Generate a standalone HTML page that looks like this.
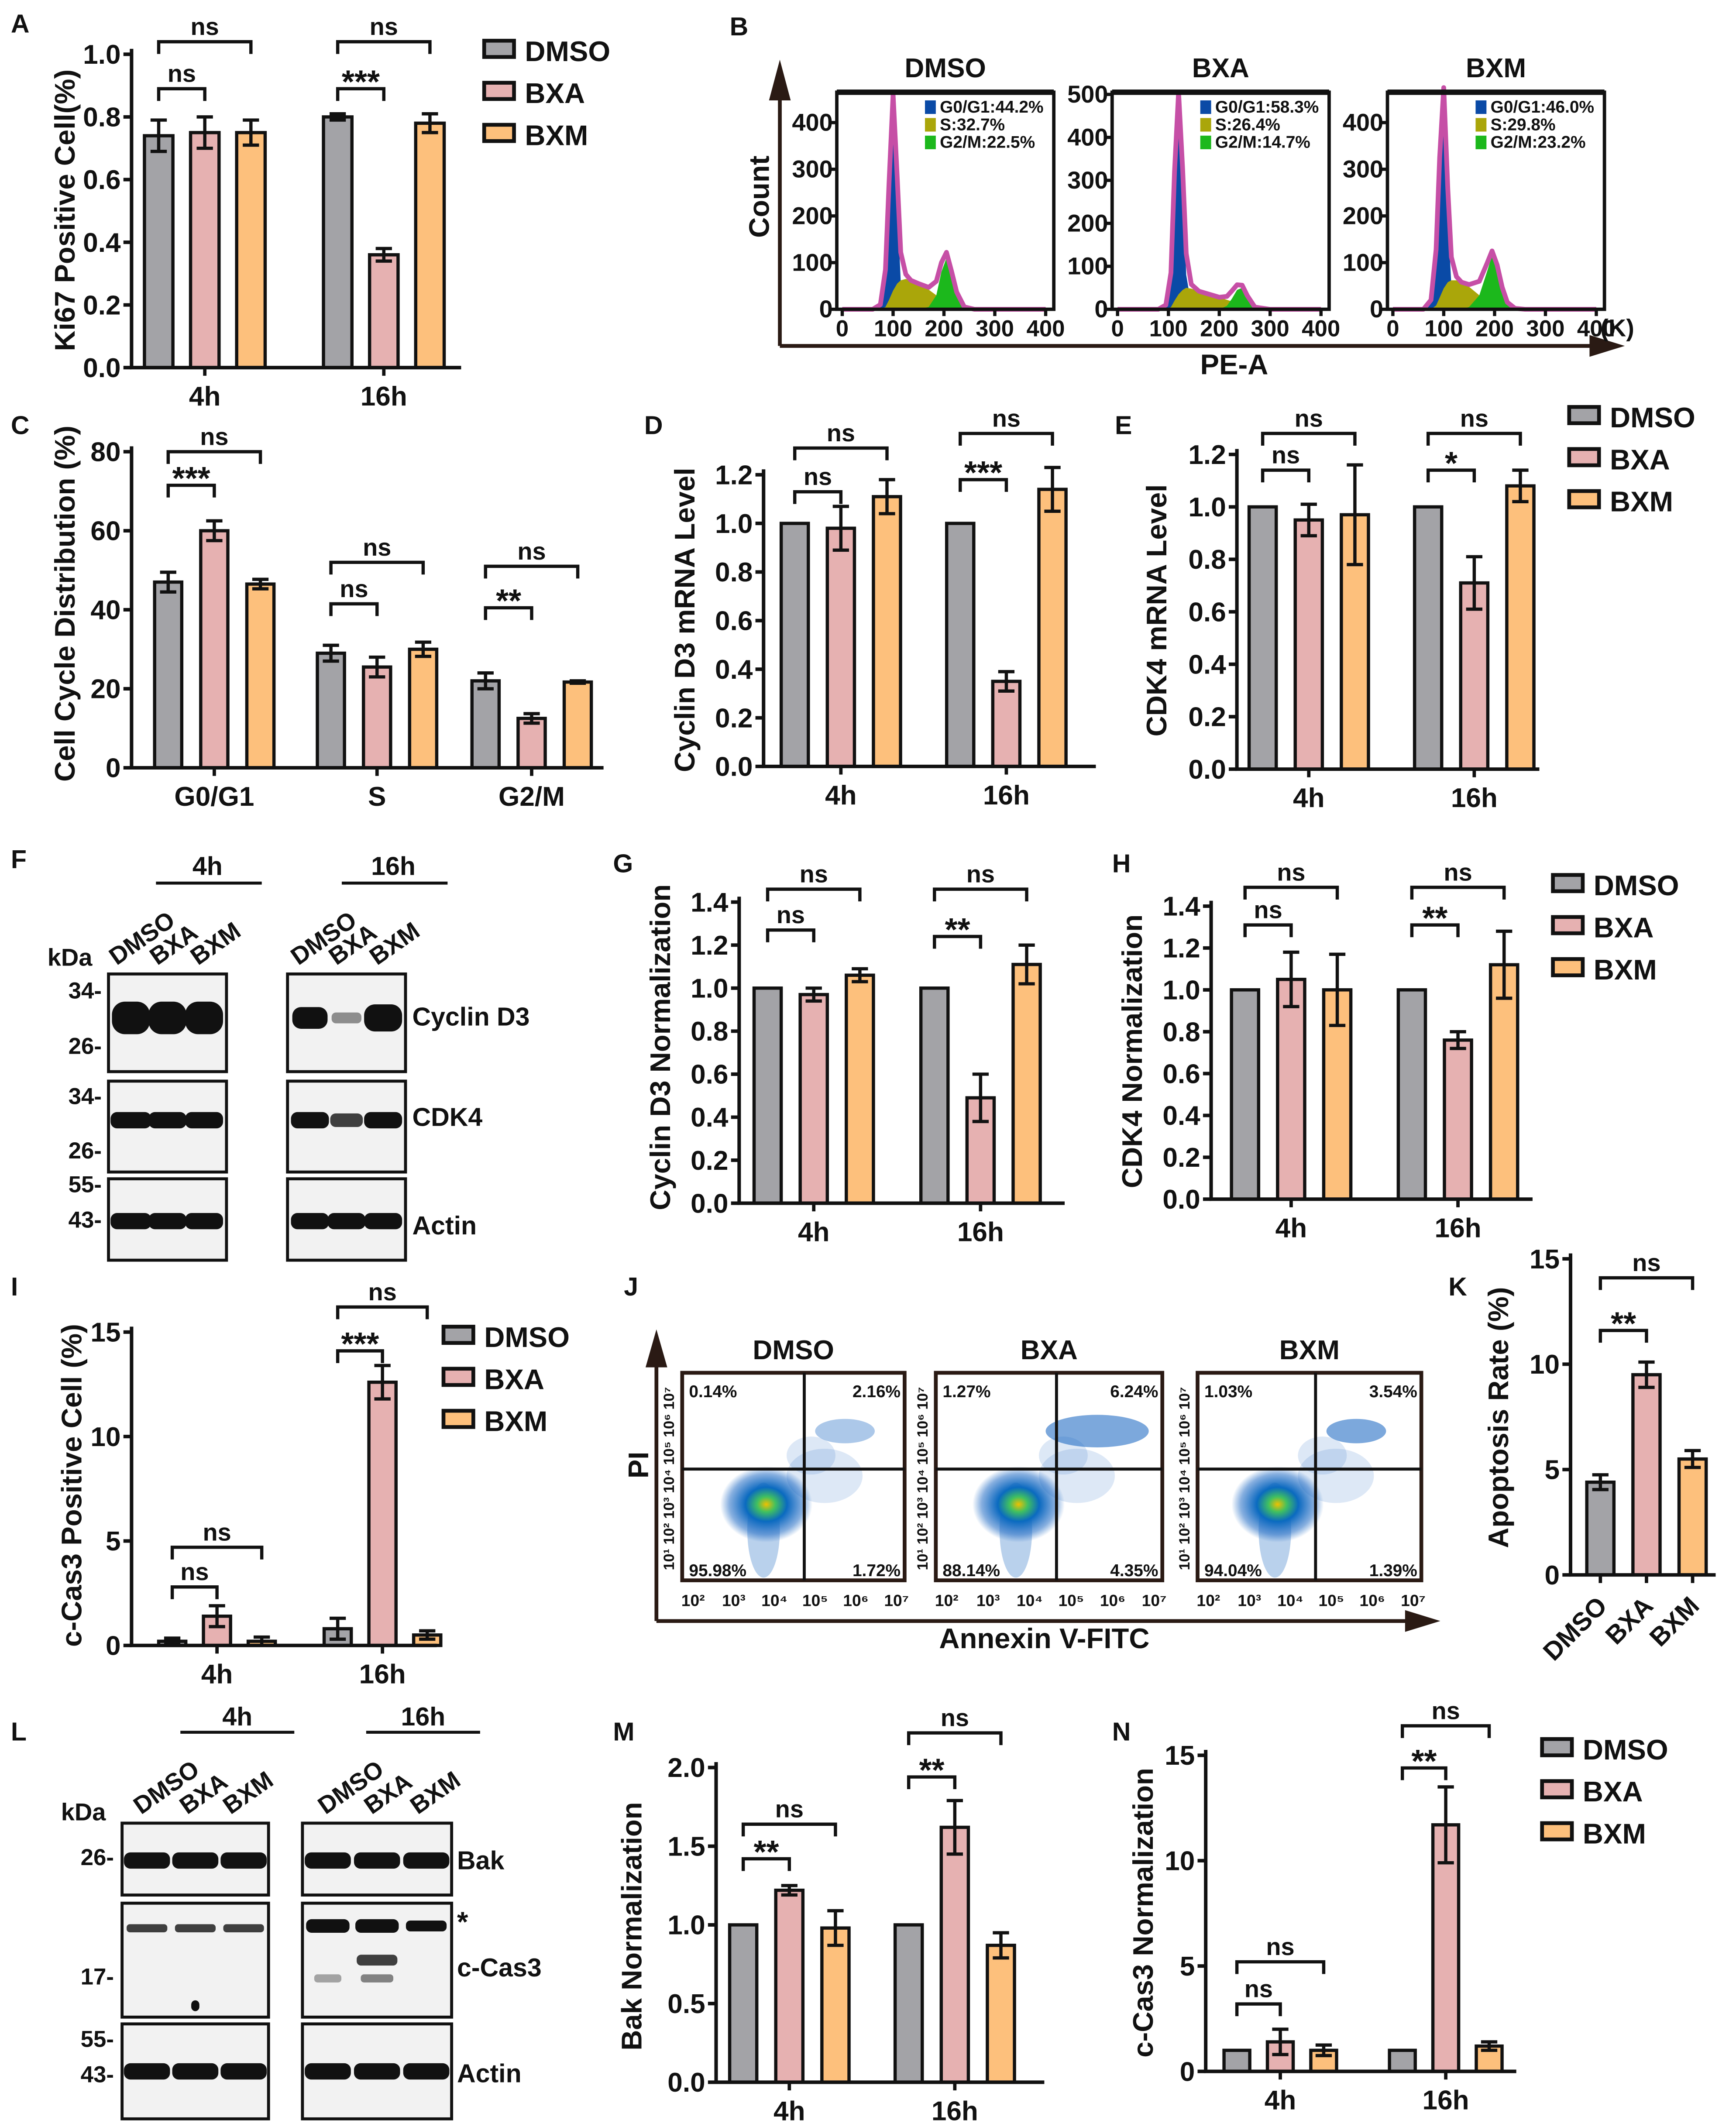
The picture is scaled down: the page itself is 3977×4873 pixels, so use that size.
<!DOCTYPE html>
<html><head><meta charset="utf-8">
<style>
html,body{margin:0;padding:0;background:#fff;}
svg{display:block;font-family:"Liberation Sans",Arial,sans-serif;font-weight:bold;}
</style></head>
<body>
<svg id="fig" xmlns="http://www.w3.org/2000/svg" width="3977" height="4873" viewBox="0 0 1280 1568" preserveAspectRatio="none">
<rect x="0" y="0" width="1280" height="1568" fill="#fff"/>
<g id="layer"></g>
</svg>
<script>
// ===== Data =====
const seriesNames = ['DMSO','BXA','BXM'];
const timeGroups = ['4h','16h'];
// A: Ki67
const A_dmso=[0.74,0.80], A_bxa=[0.75,0.36], A_bxm=[0.75,0.78];
const A_err_dmso=[0.05,0.01], A_err_bxa=[0.05,0.02], A_err_bxm=[0.04,0.03];
const A_ticks=[0,0.2,0.4,0.6,0.8,1.0];
// C: cell cycle
const C_groups=['G0/G1','S','G2/M'];
const C_dmso=[47,29,22], C_bxa=[60,25.5,12.5], C_bxm=[46.5,30,21.7];
const C_err_dmso=[2.5,2,2], C_err_bxa=[2.5,2.5,1.2], C_err_bxm=[1.2,1.8,0.3];
const C_ticks=[0,20,40,60,80];
// D: Cyclin D3 mRNA
const D_dmso=[1,1], D_bxa=[0.98,0.35], D_bxm=[1.11,1.14];
const D_err_dmso=[0,0], D_err_bxa=[0.09,0.04], D_err_bxm=[0.07,0.09];
const D_ticks=[0,0.2,0.4,0.6,0.8,1.0,1.2];
// E: CDK4 mRNA
const E_dmso=[1,1], E_bxa=[0.95,0.71], E_bxm=[0.97,1.08];
const E_err_dmso=[0,0], E_err_bxa=[0.06,0.1], E_err_bxm=[0.19,0.06];
const E_ticks=[0,0.2,0.4,0.6,0.8,1.0,1.2];
// G: Cyclin D3 normalization
const G_dmso=[1,1], G_bxa=[0.97,0.49], G_bxm=[1.06,1.11];
const G_err_dmso=[0,0], G_err_bxa=[0.03,0.11], G_err_bxm=[0.03,0.09];
const G_ticks=[0,0.2,0.4,0.6,0.8,1.0,1.2,1.4];
// H: CDK4 normalization
const H_dmso=[1,1], H_bxa=[1.05,0.76], H_bxm=[1.0,1.12];
const H_err_dmso=[0,0], H_err_bxa=[0.13,0.04], H_err_bxm=[0.17,0.16];
const H_ticks=[0,0.2,0.4,0.6,0.8,1.0,1.2,1.4];
// I: c-Cas3 positive
const I_dmso=[0.2,0.8], I_bxa=[1.4,12.6], I_bxm=[0.2,0.5];
const I_err_dmso=[0.15,0.5], I_err_bxa=[0.5,0.8], I_err_bxm=[0.2,0.2];
const I_ticks=[0,5,10,15];
// K: apoptosis
const K_cats=['DMSO','BXA','BXM'];
const K_vals=[4.4,9.5,5.5];
const K_err=[0.35,0.6,0.4];
const K_ticks=[0,5,10,15];
// M: Bak
const M_dmso=[1,1], M_bxa=[1.22,1.62], M_bxm=[0.98,0.87];
const M_err_dmso=[0,0], M_err_bxa=[0.03,0.17], M_err_bxm=[0.11,0.08];
const M_ticks=[0,0.5,1.0,1.5,2.0];
// N: c-Cas3 normalization
const N_dmso=[1,1], N_bxa=[1.4,11.7], N_bxm=[1.0,1.2];
const N_err_dmso=[0,0], N_err_bxa=[0.6,1.8], N_err_bxm=[0.25,0.2];
const N_ticks=[0,5,10,15];
// B: flow histograms (count vs PE-A in K)
const B_x=[0,60,75,85,92,100,108,115,125,135,150,170,185,195,205,215,225,240,260,300,400];
const B_dmso_g1=[0,0,10,80,250,420,230,60,10,0,0,0,0,0,0,0,0,0,0,0,0];
const B_dmso_s=[0,0,0,5,20,40,55,62,65,62,55,42,30,20,12,6,2,0,0,0,0];
const B_dmso_g2=[0,0,0,0,0,0,0,0,0,0,0,5,30,80,110,75,35,5,0,0,0];
const B_bxa_x=[0,80,95,105,112,120,128,135,145,160,180,200,215,225,235,245,255,270,300,400];
const B_bxa_g1=[0,0,10,80,300,470,280,80,10,0,0,0,0,0,0,0,0,0,0,0];
const B_bxa_s=[0,0,0,5,20,35,45,50,48,42,35,28,22,18,12,6,2,0,0,0];
const B_bxa_g2=[0,0,0,0,0,0,0,0,0,0,0,0,8,25,45,50,30,5,0,0];
const B_bxm_g1=[0,0,20,120,300,430,200,50,8,0,0,0,0,0,0,0,0,0,0,0,0];
const B_bxm_s=[0,0,0,8,25,45,58,62,62,58,48,30,18,10,5,2,0,0,0,0,0];
const B_bxm_g2=[0,0,0,0,0,0,0,0,0,0,5,30,80,115,90,45,15,2,0,0,0];
const J_pct=[['0.14%','2.16%','95.98%','1.72%'],['1.27%','6.24%','88.14%','4.35%'],['1.03%','3.54%','94.04%','1.39%']];

const COLORS=['#a3a3a7','#e6b1b1','#fdc07c'];
const NS='http://www.w3.org/2000/svg';
const layer=document.getElementById('layer');
function el(tag,attrs,parent,txt){const e=document.createElementNS(NS,tag);for(const k in attrs)e.setAttribute(k,attrs[k]);if(txt!==undefined)e.textContent=txt;(parent||layer).appendChild(e);return e;}
function grp(name,parent){const g=el('g',{},parent);


return g;}
function text(parent,x,y,s,size,anchor,name,rot){const t=el('text',{x:x,y:y,'font-size':size,'text-anchor':anchor||'middle',fill:'#111'},parent,s);
if(rot!==undefined)t.setAttribute('transform','rotate('+rot+' '+x+' '+y+')');


return t;}
function fmt(v,step){return step<1?v.toFixed(1):String(v);}

function barChart(c){
  const g=grp(c.name);
  const sy=v=>c.yb-(v/c.max)*(c.yb-c.yt);
  const sx=(gi,si)=>c.centers[gi]+(si-1)*c.sp;
  c.series.forEach((vals,si)=>{vals.forEach((v,gi)=>{
    const x=sx(gi,si)-c.bw/2, y=sy(v);
    const r=el('rect',{x:x,y:y,width:c.bw,height:c.yb-y,fill:c.colors?c.colors[gi]:COLORS[si],stroke:'#111','stroke-width':2.4},g);
    
    
    const e=c.errs[si][gi];
    if(e>0){const cx=sx(gi,si);const eb=el('path',{d:`M${cx},${sy(v-e)}V${sy(v+e)}M${cx-6},${sy(v+e)}H${cx+6}M${cx-6},${sy(v-e)}H${cx+6}`,stroke:'#111','stroke-width':2.4,fill:'none'},g);
    
    }
  });});
  const ax=el('path',{d:`M${c.x0},${c.yt-4}V${c.yb}H${c.xEnd}`,stroke:'#111','stroke-width':2.6,fill:'none'},g);
  
  
  const step=c.ticks[1]-c.ticks[0];
  c.ticks.forEach(t=>{const y=sy(t);el('line',{x1:c.x0-6,x2:c.x0,y1:y,y2:y,stroke:'#111','stroke-width':2.6},g);
    text(g,c.x0-8,y+7,fmt(t,step),c.tickSize||20,'end','y-tick-label');});
  c.labels.forEach((l,gi)=>{
    if(c.rotLabels){const x=c.centers[gi]+6,y=c.yb+16;el('line',{x1:c.centers[gi],x2:c.centers[gi],y1:c.yb,y2:c.yb+6,stroke:'#111','stroke-width':2.5},g);text(g,x,y+8,l,19,'end','x-tick-label',-45);}
    else{el('line',{x1:c.centers[gi],x2:c.centers[gi],y1:c.yb,y2:c.yb+6,stroke:'#111','stroke-width':2.5},g);text(g,c.centers[gi],c.yb+28,l,20,'middle','x-tick-label');}
  });
  text(g,c.ytx,c.yty,c.ytitle,21,'middle','y-axis-title',-90);
  (c.brackets||[]).forEach(b=>{const [gi,a,bb,v,lab]=b;
    const x1=c.brX?c.brX(a):sx(gi,a), x2=c.brX?c.brX(bb):sx(gi,bb), y=sy(v);
    const p=el('path',{d:`M${x1},${y+9}V${y}H${x2}V${y+9}`,stroke:'#111','stroke-width':2.4,fill:'none'},g);
    
    
    text(g,(x1+x2)/2,lab==='ns'?y-5:y+3,lab,lab==='ns'?18:24,'middle','significance-label');
  });
  return g;
}
function legend(x,y0,dy){const g=grp('legend');seriesNames.forEach((n,i)=>{
  const r=el('rect',{x:x,y:y0+i*dy-8,width:22,height:12,fill:COLORS[i],stroke:'#111','stroke-width':2.8},g);
  
  
  text(g,x+30,y0+i*dy+7,n,21,'start','legend-entry');});}
function panelLetter(l,x,y){text(layer,x,y,l,19,'start','panel-letter-'+l);}

barChart({name:'panel-a-ki67',x0:97,yt:40,yb:271,max:1.0,xEnd:340,centers:[151,283],sp:34,bw:21,
  series:[A_dmso,A_bxa,A_bxm],errs:[A_err_dmso,A_err_bxa,A_err_bxm],ticks:A_ticks,labels:timeGroups,seriesNames:seriesNames,
  ytitle:'Ki67 Positive Cell(%)',ytx:55,yty:155,
  brackets:[[0,0,1,0.89,'ns'],[0,0,2,1.04,'ns'],[1,0,1,0.89,'***'],[1,0,2,1.04,'ns']]});
legend(357,38,31);
barChart({name:'panel-c-cell-cycle',x0:97,yt:333,yb:566,max:80,xEnd:445,centers:[158,278,392],sp:34,bw:20,
  series:[C_dmso,C_bxa,C_bxm],errs:[C_err_dmso,C_err_bxa,C_err_bxm],ticks:C_ticks,labels:C_groups,seriesNames:seriesNames,
  ytitle:'Cell Cycle Distribution (%)',ytx:55,yty:445,
  brackets:[[0,0,1,71.5,'***'],[0,0,2,80,'ns'],[1,0,1,41.5,'ns'],[1,0,2,52,'ns'],[2,0,1,40.5,'**'],[2,0,2,51,'ns']]});
barChart({name:'panel-d-cyclin-d3-mrna',x0:563,yt:350,yb:565,max:1.2,xEnd:808,centers:[620,742],sp:34,bw:20,
  series:[D_dmso,D_bxa,D_bxm],errs:[D_err_dmso,D_err_bxa,D_err_bxm],ticks:D_ticks,labels:timeGroups,seriesNames:seriesNames,
  ytitle:'Cyclin D3 mRNA Level',ytx:512,yty:457,
  brackets:[[0,0,1,1.13,'ns'],[0,0,2,1.31,'ns'],[1,0,1,1.18,'***'],[1,0,2,1.37,'ns']]});
barChart({name:'panel-e-cdk4-mrna',x0:912,yt:335,yb:567,max:1.2,xEnd:1135,centers:[965,1087],sp:34,bw:20,
  series:[E_dmso,E_bxa,E_bxm],errs:[E_err_dmso,E_err_bxa,E_err_bxm],ticks:E_ticks,labels:timeGroups,seriesNames:seriesNames,
  ytitle:'CDK4 mRNA Level',ytx:860,yty:450,
  brackets:[[0,0,1,1.14,'ns'],[0,0,2,1.28,'ns'],[1,0,1,1.14,'*'],[1,0,2,1.28,'ns']]});
legend(1157,308,31);
barChart({name:'panel-g-cyclin-d3-norm',x0:545,yt:665,yb:887,max:1.4,xEnd:785,centers:[600,723],sp:34,bw:20,
  series:[G_dmso,G_bxa,G_bxm],errs:[G_err_dmso,G_err_bxa,G_err_bxm],ticks:G_ticks,labels:timeGroups,seriesNames:seriesNames,
  ytitle:'Cyclin D3 Normalization',ytx:494,yty:772,
  brackets:[[0,0,1,1.27,'ns'],[0,0,2,1.46,'ns'],[1,0,1,1.24,'**'],[1,0,2,1.46,'ns']]});
barChart({name:'panel-h-cdk4-norm',x0:893,yt:668,yb:884,max:1.4,xEnd:1130,centers:[952,1075],sp:34,bw:20,
  series:[H_dmso,H_bxa,H_bxm],errs:[H_err_dmso,H_err_bxa,H_err_bxm],ticks:H_ticks,labels:timeGroups,seriesNames:seriesNames,
  ytitle:'CDK4 Normalization',ytx:842,yty:775,
  brackets:[[0,0,1,1.31,'ns'],[0,0,2,1.49,'ns'],[1,0,1,1.31,'**'],[1,0,2,1.49,'ns']]});
legend(1145,653,31);
barChart({name:'panel-i-ccas3-positive',x0:97,yt:982,yb:1213,max:15,xEnd:322,centers:[160,282],sp:33,bw:20,
  series:[I_dmso,I_bxa,I_bxm],errs:[I_err_dmso,I_err_bxa,I_err_bxm],ticks:I_ticks,labels:timeGroups,seriesNames:seriesNames,
  ytitle:'c-Cas3 Positive Cell (%)',ytx:60,yty:1095,
  brackets:[[0,0,1,2.8,'ns'],[0,0,2,4.7,'ns'],[1,0,1,14.1,'***'],[1,0,2,16.2,'ns']]});
legend(327,986,31);
barChart({name:'panel-k-apoptosis',x0:1158,yt:928,yb:1161,max:15,xEnd:1265,centers:[1180,1214,1248],sp:0,bw:20,
  series:[K_vals],errs:[K_err],ticks:K_ticks,labels:K_cats,colors:COLORS,rotLabels:true,
  ytitle:'Apoptosis Rate (%)',ytx:1112,yty:1045,
  brX:i=>[1180,1214,1248][i],
  brackets:[[0,0,1,11.6,'**'],[0,0,2,14.1,'ns']]});
barChart({name:'panel-m-bak',x0:528,yt:1303,yb:1535,max:2.0,xEnd:770,centers:[582,704],sp:34,bw:20,
  series:[M_dmso,M_bxa,M_bxm],errs:[M_err_dmso,M_err_bxa,M_err_bxm],ticks:M_ticks,labels:timeGroups,seriesNames:seriesNames,
  ytitle:'Bak Normalization',ytx:473,yty:1420,
  brackets:[[0,0,1,1.42,'**'],[0,0,2,1.64,'ns'],[1,0,1,1.94,'**'],[1,0,2,2.22,'ns']]});
barChart({name:'panel-n-ccas3-norm',x0:889,yt:1294,yb:1527,max:15,xEnd:1118,centers:[944,1066],sp:32,bw:19,
  series:[N_dmso,N_bxa,N_bxm],errs:[N_err_dmso,N_err_bxa,N_err_bxm],ticks:N_ticks,labels:timeGroups,seriesNames:seriesNames,
  ytitle:'c-Cas3 Normalization',ytx:850,yty:1410,
  brackets:[[0,0,1,3.2,'ns'],[0,0,2,5.2,'ns'],[1,0,1,14.4,'**'],[1,0,2,16.4,'ns']]});
legend(1137,1290,31);

// ===== Panel B =====
(function(){
  const g=grp('panel-b-flow-histograms');
  const ax=el('path',{d:'M575,255V62M575,255H1185',stroke:'#2a1a14','stroke-width':2.8,fill:'none'},g);
  
  
  el('path',{d:'M575,44L567,74L583,74Z',fill:'#2a1a14'},g);
  el('path',{d:'M1198,255L1172,247L1172,263Z',fill:'#2a1a14'},g);
  text(g,567,145,'Count',21,'middle','y-axis-title',-90);
  text(g,910,276,'PE-A',21,'middle','x-axis-title');
  text(g,1180,248,'(K)',18,'start','x-unit');
  const panels=[
    {n:'DMSO',x0:617,x1:777,max:465,ticks:[0,100,200,300,400],xs:B_x,g1:B_dmso_g1,s:B_dmso_s,g2:B_dmso_g2,leg:['G0/G1:44.2%','S:32.7%','G2/M:22.5%']},
    {n:'BXA',x0:820,x1:980,max:505,ticks:[0,100,200,300,400,500],xs:B_bxa_x,g1:B_bxa_g1,s:B_bxa_s,g2:B_bxa_g2,leg:['G0/G1:58.3%','S:26.4%','G2/M:14.7%']},
    {n:'BXM',x0:1023,x1:1183,max:465,ticks:[0,100,200,300,400],xs:B_x,g1:B_bxm_g1,s:B_bxm_s,g2:B_bxm_g2,leg:['G0/G1:46.0%','S:29.8%','G2/M:23.2%']}];
  panels.forEach(p=>{
    const pg=grp('histogram-'+p.n,g);
    const yb=228, yt=68;
    const sx=v=>p.x0+4+v/400*(p.x1-p.x0-10), sy=v=>yb-v/p.max*(yb-yt);
    const area=(arr,col,nm)=>{let d=`M${sx(p.xs[0])},${yb}`;arr.forEach((v,i)=>d+=`L${sx(p.xs[i])},${sy(v)}`);d+=`L${sx(p.xs[p.xs.length-1])},${yb}Z`;
      const a=el('path',{d:d,fill:col},pg);};
    area(p.g1,'#0a4aa6','g1-area');area(p.s,'#aaa60a','s-area');area(p.g2,'#1cb81c','g2-area');
    let d='';p.xs.forEach((x,i)=>{const v=p.g1[i]+p.s[i]+p.g2[i];d+=(i?'L':'M')+sx(x)+','+sy(v);});
    const env=el('path',{d:d,fill:'none',stroke:'#c64fa6','stroke-width':3.5,'stroke-linejoin':'round'},pg);
    
    el('rect',{x:p.x0,y:yt,width:p.x1-p.x0,height:yb-yt,fill:'none',stroke:'#111','stroke-width':2.5},pg);
    el('line',{x1:p.x0,x2:p.x1,y1:yt,y2:yt,stroke:'#111','stroke-width':4},pg);
    text(pg,(p.x0+p.x1)/2,57,p.n,20,'middle','histogram-title');
    p.ticks.forEach(t=>{const y=sy(t);el('line',{x1:p.x0-5,x2:p.x0,y1:y,y2:y,stroke:'#111','stroke-width':2.4},pg);text(pg,p.x0-3,y+6,String(t),18,'end','y-tick-label');});
    [0,100,200,300,400].forEach(t=>{const x=sx(t);el('line',{x1:x,x2:x,y1:yb,y2:yb+5,stroke:'#111','stroke-width':2.4},pg);text(pg,x,yb+20,String(t),17,'middle','x-tick-label');});
    const lc=['#0a4aa6','#aaa60a','#1cb81c'];
    p.leg.forEach((l,i)=>{el('rect',{x:p.x0+65,y:74+i*13,width:8,height:10,fill:lc[i]},pg);text(pg,p.x0+76,83+i*13,l,12.5,'start','phase-legend');});
  });
})();

// ===== Panel J =====
(function(){
  const g=grp('panel-j-annexin-scatter');
  el('path',{d:'M484,1195V1000M484,1195H1040',stroke:'#2a1a14','stroke-width':2.8,fill:'none'},g);
  el('path',{d:'M484,980L476,1008L492,1008Z',fill:'#2a1a14'},g);
  el('path',{d:'M1062,1195L1036,1187L1036,1203Z',fill:'#2a1a14'},g);
  text(g,478,1080,'PI',21,'middle','y-axis-title',-90);
  text(g,770,1215,'Annexin V-FITC',21,'middle','x-axis-title');
  const boxes=[{n:'DMSO',x0:503,x1:667,qx:593},{n:'BXA',x0:690,x1:857,qx:779},{n:'BXM',x0:883,x1:1048,qx:970}];
  const defs=el('defs',{},g);
  const rg=el('radialGradient',{id:'dens'},defs);
  el('stop',{offset:'0','stop-color':'#f0c000'},rg);el('stop',{offset:'0.2','stop-color':'#40c060'},rg);
  el('stop',{offset:'0.45','stop-color':'#0a6ac0'},rg);el('stop',{offset:'0.8','stop-color':'#1060c0','stop-opacity':'0.5'},rg);el('stop',{offset:'1','stop-color':'#1060c0','stop-opacity':'0'},rg);
  boxes.forEach((b,i)=>{
    const bg=grp('scatter-'+b.n,g);
    const yt=1012,yb=1165,qy=1083;
    text(bg,(b.x0+b.x1)/2,1002,b.n,20,'middle','scatter-title');
    el('ellipse',{cx:b.qx-30,cy:qy+45,rx:12,ry:35,fill:'#1868c0','fill-opacity':0.3},bg);
    el('ellipse',{cx:b.qx+15,cy:qy+5,rx:28,ry:20,fill:'#1868c0','fill-opacity':0.15},bg);
    el('ellipse',{cx:b.qx-28,cy:qy+26,rx:34,ry:28,fill:'url(#dens)'},bg);
    el('ellipse',{cx:b.qx+30,cy:qy-28,rx:i===1?38:22,ry:i===1?12:9,fill:'#1060c0','fill-opacity':i===0?0.35:0.55},bg);
    el('ellipse',{cx:b.qx+5,cy:qy-10,rx:18,ry:14,fill:'#1868c0','fill-opacity':0.15},bg);
    el('rect',{x:b.x0,y:yt,width:b.x1-b.x0,height:yb-yt,fill:'none',stroke:'#2a1a14','stroke-width':2.8},bg);
    el('path',{d:`M${b.qx},${yt}V${yb}M${b.x0},${qy}H${b.x1}`,stroke:'#111','stroke-width':2.2},bg);
    const pc=J_pct[i];
    text(bg,b.x0+5,1030,pc[0],12.5,'start','quadrant-pct');text(bg,b.x1-3,1030,pc[1],12.5,'end','quadrant-pct');
    text(bg,b.x0+5,1162,pc[2],12.5,'start','quadrant-pct');text(bg,b.x1-3,1162,pc[3],12.5,'end','quadrant-pct');
    text(bg,b.x0-6,1090,'10¹ 10² 10³ 10⁴ 10⁵ 10⁶ 10⁷',11,'middle','y-tick-labels',-90);
    ['10²','10³','10⁴','10⁵','10⁶','10⁷'].forEach((t,k)=>text(bg,b.x0+8+k*(b.x1-b.x0-14)/5,1184,t,12,'middle','x-tick-label'));
  });
})();

// ===== Western blots =====
function blot(name,x,y,w,h,bands,parent){
  const g=grp(name,parent);
  el('rect',{x:x,y:y,width:w,height:h,fill:'#f2f2f2',stroke:'#111','stroke-width':2.2},g);
  bands.forEach(b=>{const e=el('rect',{x:x+b[0]*w-b[2],y:y+b[1]*h-b[3],width:2*b[2],height:2*b[3],rx:b[3]*0.8,fill:'#111','fill-opacity':b[4]},g);
    });
}
(function(){
  const g=grp('panel-f-western-blot');
  text(g,35,712,'kDa',18,'start','kda-label');
  [['34-',736],['26-',777],['34-',814],['26-',854],['55-',879],['43-',905]].forEach(m=>text(g,75,m[1],m[0],17,'end','marker'));
  [['4h',153],['16h',290]].forEach(t=>{text(g,t[1],645,t[0],19,'middle','time-label');el('line',{x1:t[1]-38,x2:t[1]+40,y1:651,y2:651,stroke:'#111','stroke-width':2.2},g);});
  const lanes=[[96,126,156],[230,258,288]];
  lanes.forEach(L=>['DMSO','BXA','BXM'].forEach((n,i)=>text(g,L[i]-10,712,n,18,'start','lane-label',-35)));
  blot('blot-4h-cyclin-d3',80,718,87,72,[[0.19,0.45,14,12,1],[0.5,0.45,14,12,1],[0.81,0.45,14,12,1]],g);
  blot('blot-4h-cdk4',80,797,87,67,[[0.19,0.43,15,6,1],[0.5,0.43,14,6,1],[0.81,0.43,14,6,1]],g);
  blot('blot-4h-actin',80,869,87,60,[[0.19,0.52,15,6,1],[0.5,0.52,14,6,1],[0.81,0.52,14,6,1]],g);
  blot('blot-16h-cyclin-d3',212,718,87,72,[[0.19,0.45,13,8,1],[0.5,0.45,11,4,0.45],[0.81,0.45,14,10,1]],g);
  blot('blot-16h-cdk4',212,797,87,67,[[0.19,0.43,14,6,1],[0.5,0.43,12,5,0.8],[0.81,0.43,14,6,1]],g);
  blot('blot-16h-actin',212,869,87,60,[[0.19,0.52,14,6,1],[0.5,0.52,14,6,1],[0.81,0.52,14,6,1]],g);
  text(g,304,756,'Cyclin D3',19,'start','protein-label');text(g,304,830,'CDK4',19,'start','protein-label');text(g,304,910,'Actin',19,'start','protein-label');
})();
(function(){
  const g=grp('panel-l-western-blot');
  text(g,45,1342,'kDa',18,'start','kda-label');
  [['26-',1375],['17-',1463],['55-',1509],['43-',1535]].forEach(m=>text(g,84,m[1],m[0],17,'end','marker'));
  [['4h',175],['16h',312]].forEach(t=>{text(g,t[1],1272,t[0],19,'middle','time-label');el('line',{x1:t[1]-42,x2:t[1]+42,y1:1277,y2:1277,stroke:'#111','stroke-width':2.2},g);});
  const lanes=[[112,146,178],[248,282,316]];
  lanes.forEach(L=>['DMSO','BXA','BXM'].forEach((n,i)=>text(g,L[i]-8,1338,n,18,'start','lane-label',-35)));
  blot('blot-4h-bak',90,1344,108,53,[[0.17,0.52,17,6,1],[0.5,0.52,17,6,1],[0.83,0.52,17,6,1]],g);
  blot('blot-4h-ccas3',90,1403,108,84,[[0.17,0.22,15,3,0.8],[0.5,0.22,15,3,0.8],[0.83,0.22,15,3,0.8],[0.5,0.9,3,4,1]],g);
  blot('blot-4h-actin',90,1492,108,70,[[0.17,0.5,17,6,1],[0.5,0.5,17,6,1],[0.83,0.5,17,6,1]],g);
  blot('blot-16h-bak',223,1344,110,53,[[0.17,0.52,17,6,1],[0.5,0.52,17,6,1],[0.83,0.52,17,6,1]],g);
  blot('blot-16h-ccas3',223,1403,110,84,[[0.17,0.2,16,5,1],[0.5,0.2,16,5,1],[0.83,0.2,15,4,1],[0.5,0.5,15,4,0.8],[0.17,0.66,10,3,0.35],[0.5,0.66,12,3,0.5]],g);
  blot('blot-16h-actin',223,1492,110,70,[[0.17,0.5,17,6,1],[0.5,0.5,17,6,1],[0.83,0.5,17,6,1]],g);
  text(g,337,1378,'Bak',19,'start','protein-label');text(g,337,1424,'*',21,'start','nonspecific-mark');
  text(g,337,1457,'c-Cas3',19,'start','protein-label');text(g,337,1535,'Actin',19,'start','protein-label');
})();

[['A',8,24],['B',538,26],['C',8,320],['D',475,320],['E',822,320],['F',8,640],['G',452,643],['H',820,643],['I',8,955],['J',460,955],['K',1068,955],['L',8,1283],['M',452,1283],['N',820,1283]].forEach(p=>panelLetter(p[0],p[1],p[2]));
</script>
</body></html>
